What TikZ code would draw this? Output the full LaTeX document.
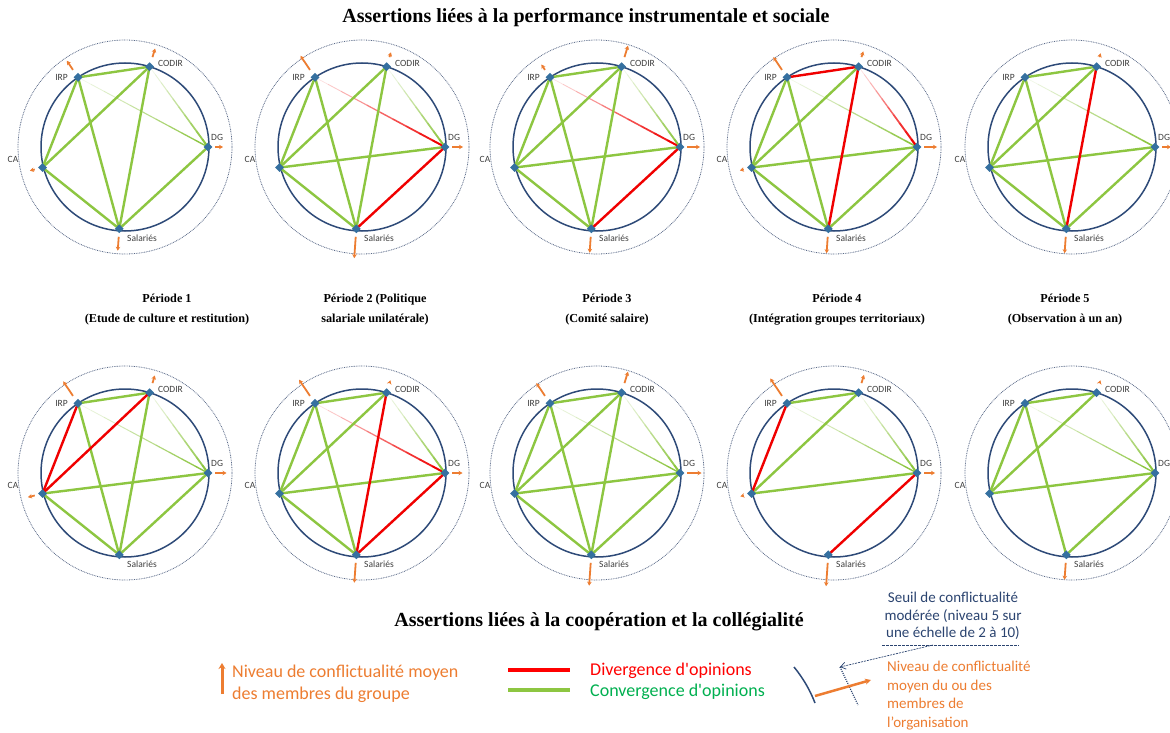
\documentclass[tikz,border=0pt]{standalone}
\usepackage{fontspec}
\setmainfont{Liberation Serif}
\newfontfamily\calib{Carlito}
\usetikzlibrary{shapes.geometric,arrows.meta,calc}
\definecolor{navyc}{HTML}{2E4A78}
\definecolor{dotc}{HTML}{5A6A88}
\definecolor{nodeb}{HTML}{3570A0}
\definecolor{lgreen}{HTML}{8DC641}
\definecolor{dred}{HTML}{F00000}
\definecolor{orng}{HTML}{ED7D31}
\definecolor{labg}{HTML}{404040}
\definecolor{cgreen}{HTML}{00B050}
\definecolor{seuil}{HTML}{2B4470}
\tikzset{
 innerc/.style={draw=navyc, line width=1.5pt},
 outerc/.style={draw=dotc, line width=0.8pt, dash pattern=on 0.8pt off 0.9pt},
 gEd/.style={draw=lgreen, line width=2.4pt},
 rEd/.style={draw=dred, line width=2.4pt},
 ptn/.style={diamond, fill=nodeb, inner sep=0pt, minimum size=9pt},
 lab/.style={font=\calib\fontsize{9.5}{10}\selectfont, text=labg, inner sep=0pt},
 oarr/.style={draw=orng, line width=1.8pt, -{Stealth[length=4pt,width=4.5pt]}},
 ttl/.style={font=\bfseries\fontsize{20}{22}\selectfont, inner sep=0pt},
 per/.style={font=\bfseries\fontsize{12.2}{20}\selectfont, inner sep=0pt, align=center},
 legtxt/.style={font=\calib\fontsize{18}{22}\selectfont, inner sep=0pt, align=left},
}
\newcommand\mkdiag[3]{%
 \begin{scope}[shift={(#2,#3)}]
  \coordinate (#1o) at (0,0);
  \draw[innerc] (0,0) circle[radius=84pt];
  \draw[outerc] (0,0) circle[radius=107pt];
  \coordinate (#1i) at (-124:84);
  \coordinate (#1c) at (-73:84);
  \coordinate (#1d) at (0:83);
  \coordinate (#1a) at (166:85);
  \coordinate (#1s) at (94:82);
 \end{scope}}
\newcommand\mknodes[1]{%
  \node[ptn] (#1I) at (#1i) {};
  \node[ptn] (#1C) at (#1c) {};
  \node[ptn] (#1D) at (#1d) {};
  \node[ptn] (#1A) at (#1a) {};
  \node[ptn] (#1S) at (#1s) {};
  \node[lab, anchor=east] (#1Il) at ($(#1o)+(-57,-70)$) {IRP};
  \node[lab, anchor=west] (#1Cl) at ($(#1o)+(33,-84)$) {CODIR};
  \node[lab, anchor=west] (#1Dl) at ($(#1o)+(86,-10)$) {DG};
  \node[lab] (#1Al) at ($(#1o)+(-112,12)$) {CA};
  \node[lab, anchor=west] (#1Sl) at ($(#1o)+(2,91)$) {Salariés};}
\newcommand\eG[3]{\draw[gEd] (#1#2) -- (#1#3);}
\newcommand\eR[3]{\draw[rEd] (#1#2) -- (#1#3);}
\newcommand\fadeE[5]{% prefix, from, to, color, max width
 \foreach \k in {0,...,9}{%
   \pgfmathsetmacro\op{0.12+0.88*\k/9}%
   \pgfmathsetmacro\lw{0.7+(#5-0.7)*\k/9}%
   \draw[draw=#4, draw opacity=\op, line width=\lw pt] ($(#1#2)!\k/10!(#1#3)$) -- ($(#1#2)!\k/10+0.1!(#1#3)$);
 }}
\newcommand\oI[2]{\draw[oarr] ($(#1o)+(-124:93)$) -- ($(#1o)+(-124:#2)$);}
\newcommand\oC[2]{\draw[oarr] ($(#1o)+(-73:94)$) -- ($(#1o)+(-73:#2)$);}
\newcommand\oD[2]{\draw[oarr] ($(#1o)+(0:90)$) -- ($(#1o)+(0:#2)$);}
\newcommand\oA[2]{\draw[oarr] ($(#1o)+(166:93)$) -- ($(#1o)+(166:#2)$);}
\newcommand\oS[2]{\draw[oarr] ($(#1o)+(94:90)$) -- ($(#1o)+(94:#2)$);}
\begin{document}
\begin{tikzpicture}[x=1pt,y=-1pt]
\useasboundingbox[fill=white] (0,0) rectangle (1170,733);
\node[ttl] (title1) at (586,18) {Assertions liées à la performance instrumentale et sociale};
\node[ttl] (title2) at (599,622) {Assertions liées à la coopération et la collégialité};
\node[per] (per1) at (167,310) {Période 1\\(Etude de culture et restitution)};
\node[per] (per2) at (375,310) {Période 2 (Politique\\salariale unilatérale)};
\node[per] (per3) at (607,310) {Période 3\\(Comité salaire)};
\node[per] (per4) at (837,310) {Période 4\\(Intégration groupes territoriaux)};
\node[per] (per5) at (1065,310) {Période 5\\(Observation à un an)};
% ---- top row
\mkdiag{ta}{125}{147}
\fadeE{ta}{i}{d}{lgreen}{1.4}\fadeE{ta}{c}{d}{lgreen}{2}
\eG{ta}{i}{c}\eG{ta}{i}{a}\eG{ta}{i}{s}\eG{ta}{c}{a}\eG{ta}{c}{s}\eG{ta}{a}{s}\eG{ta}{d}{s}
\mknodes{ta}
\oI{ta}{104}\oC{ta}{103}\oD{ta}{98}\oA{ta}{98}\oS{ta}{104}
\mkdiag{tb}{362}{147}
\fadeE{tb}{i}{d}{dred}{2}\fadeE{tb}{c}{d}{lgreen}{2}
\eG{tb}{i}{a}\eG{tb}{i}{s}\eG{tb}{c}{a}\eG{tb}{c}{s}\eG{tb}{d}{a}\eG{tb}{a}{s}\eR{tb}{d}{s}
\mknodes{tb}
\oI{tb}{110}\oC{tb}{99}\oD{tb}{101}\oS{tb}{111.5}
\mkdiag{tc}{597}{147}
\fadeE{tc}{i}{d}{dred}{2}\fadeE{tc}{c}{d}{lgreen}{2}
\eG{tc}{i}{c}\eG{tc}{i}{a}\eG{tc}{i}{s}\eG{tc}{c}{a}\eG{tc}{c}{s}\eG{tc}{d}{a}\eG{tc}{a}{s}\eR{tc}{d}{s}
\mknodes{tc}
\oI{tc}{99.5}\oC{tc}{106}\oD{tc}{103}\oS{tc}{106}
\mkdiag{td}{834}{147}
\fadeE{td}{i}{d}{lgreen}{1.6}\fadeE{td}{c}{d}{dred}{2.2}
\eG{td}{i}{a}\eG{td}{i}{s}\eG{td}{c}{a}\eG{td}{d}{a}\eG{td}{d}{s}\eG{td}{a}{s}\eR{td}{i}{c}\eR{td}{c}{s}
\mknodes{td}
\oI{td}{108.5}\oC{td}{100}\oD{td}{103}\oA{td}{97}\oS{td}{106.5}
\mkdiag{te}{1072}{147}
\fadeE{te}{i}{d}{lgreen}{1.6}
\eG{te}{i}{c}\eG{te}{i}{a}\eG{te}{i}{s}\eG{te}{c}{a}\eG{te}{d}{a}\eG{te}{d}{s}\eG{te}{a}{s}\eR{te}{c}{s}
\mknodes{te}
\oC{te}{98}\oD{te}{99}\oS{te}{106.5}
% ---- bottom row
\mkdiag{ba}{125}{473}
\fadeE{ba}{i}{d}{lgreen}{1.4}\fadeE{ba}{c}{d}{lgreen}{2}
\eG{ba}{i}{c}\eG{ba}{i}{s}\eG{ba}{c}{s}\eG{ba}{d}{a}\eG{ba}{d}{s}\eG{ba}{a}{s}\eR{ba}{i}{a}\eR{ba}{c}{a}
\mknodes{ba}
\oI{ba}{110.5}\oC{ba}{102}\oD{ba}{101.5}\oA{ba}{100}
\mkdiag{bb}{362}{473}
\fadeE{bb}{i}{d}{dred}{2}\fadeE{bb}{c}{d}{lgreen}{2}
\eG{bb}{i}{c}\eG{bb}{i}{a}\eG{bb}{i}{s}\eG{bb}{c}{a}\eG{bb}{d}{a}\eG{bb}{a}{s}\eR{bb}{c}{s}\eR{bb}{d}{s}
\mknodes{bb}
\oI{bb}{112.5}\oC{bb}{97}\oD{bb}{100.5}\oS{bb}{110}
\mkdiag{bc}{597}{473}
\fadeE{bc}{i}{d}{lgreen}{1.4}\fadeE{bc}{c}{d}{lgreen}{2}
\eG{bc}{i}{c}\eG{bc}{i}{a}\eG{bc}{i}{s}\eG{bc}{c}{a}\eG{bc}{c}{s}\eG{bc}{d}{a}\eG{bc}{d}{s}\eG{bc}{a}{s}
\mknodes{bc}
\oI{bc}{108.5}\oC{bc}{106}\oD{bc}{104.5}\oS{bc}{113}
\mkdiag{bd}{834}{473}
\fadeE{bd}{i}{d}{lgreen}{1.4}\fadeE{bd}{c}{d}{lgreen}{2}
\eG{bd}{i}{c}\eG{bd}{c}{a}\eG{bd}{d}{a}\eR{bd}{i}{a}\eR{bd}{d}{s}
\mknodes{bd}
\oI{bd}{114}\oC{bd}{102.5}\oD{bd}{101}\oA{bd}{96.5}\oS{bd}{113.5}
\mkdiag{be}{1072}{473}
\fadeE{be}{i}{d}{lgreen}{1.4}\fadeE{be}{c}{d}{lgreen}{2}
\eG{be}{i}{c}\eG{be}{i}{a}\eG{be}{i}{s}\eG{be}{c}{a}\eG{be}{d}{a}\eG{be}{d}{s}
\mknodes{be}
\oC{be}{97}\oS{be}{107}
% ---- legend
\coordinate (la1) at (222,694); \coordinate (la2) at (222,663);
\draw[draw=orng, line width=3pt, -{Stealth[length=6pt,width=7pt]}] (la1) -- (la2);
\node[legtxt, text=orng, anchor=west] (legniv) at (232,684) {Niveau de conflictualité moyen\\des membres du groupe};
\coordinate (lr1) at (508,670); \coordinate (lr2) at (570,670);
\coordinate (lg1) at (508,690); \coordinate (lg2) at (570,690);
\draw[draw=red, line width=3.5pt] (lr1) -- (lr2);
\draw[draw=lgreen, line width=3.5pt] (lg1) -- (lg2);
\node[legtxt, text=red, anchor=west] (legdiv) at (590,671) {Divergence d'opinions};
\node[legtxt, text=cgreen, anchor=west] (legconv) at (590,692) {Convergence d'opinions};
\node[font=\calib\fontsize{15}{17.5}\selectfont, text=seuil, align=center, inner sep=0pt, anchor=north] (legseuil) at (953,592) {Seuil de conflictualité\\modérée (niveau 5 sur\\une échelle de 2 à 10)};
\coordinate (su1) at (882,645); \coordinate (su2) at (1019,645); \coordinate (su3) at (933,645);
\coordinate (sd1) at (840,667); \coordinate (sd2) at (858,705);
\coordinate (arc1) at (794,667); \coordinate (arc2) at (815,703);
\coordinate (lo1) at (815,696); \coordinate (lo2) at (871,680);
\draw[draw=seuil, line width=0.9pt, dash pattern=on 2.5pt off 1.5pt] (su1) -- (su2);
\draw[draw=seuil, line width=0.7pt, dash pattern=on 2pt off 1pt, -{Straight Barb[length=5pt,width=7pt]}] (su3) -- (sd1);
\draw[draw=seuil, line width=1.2pt, dash pattern=on 1pt off 1.2pt] (sd1) -- (sd2);
\draw[draw=navyc, line width=1.5pt] (arc1) .. controls (803,678) and (810,690) .. (arc2);
\draw[draw=orng, line width=2.5pt, -{Stealth[length=6pt,width=6pt]}] (lo1) -- (lo2);
\node[font=\calib\fontsize{15}{18.5}\selectfont, text=orng, align=left, inner sep=0pt, anchor=north west] (legorg) at (887,661) {Niveau de conflictualité\\moyen du ou des\\membres de\\l’organisation};
\end{tikzpicture}
\end{document}
